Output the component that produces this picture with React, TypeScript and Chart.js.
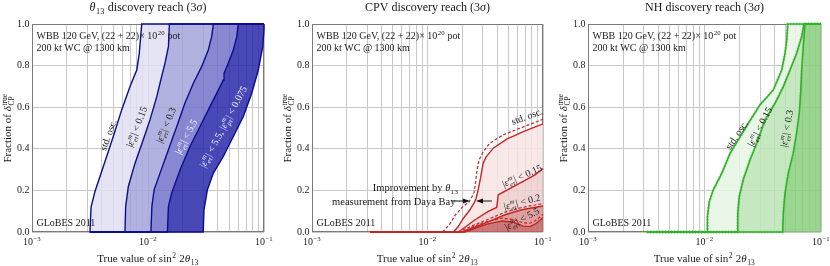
import React, { useEffect, useRef } from "react";
import { Chart, registerables } from "chart.js";

Chart.register(...registerables);

const FONT = '"Liberation Serif", "Times New Roman", Times, serif';
Chart.defaults.font.family = FONT;

// ---------- axes ----------
const X_MIN = 1e-3;
const X_MAX = 1e-1;
const X_START = 3.2e-3;
const X_GRID = [0.001, 0.002, 0.003, 0.004, 0.005, 0.006, 0.007, 0.008, 0.009, 0.01, 0.02, 0.03, 0.04, 0.05, 0.06, 0.07, 0.08, 0.09, 0.1];
const X_DECADES = [0.001, 0.01, 0.1];
const X_DECADE_EXP = ["−3", "−2", "−1"];
const Y_TICKS = [0, 0.2, 0.4, 0.6, 0.8, 1];

// ---------- θ13 discovery reach: [sin^2 2θ13, fraction] ----------
const T13_STD = [[3.16e-3, 0], [3.23e-3, 0.12], [3.49e-3, 0.195], [4.12e-3, 0.315], [5.02e-3, 0.459], [5.93e-3, 0.587], [7.0e-3, 0.699], [8.0e-3, 0.779], [8.41e-3, 0.859], [8.83e-3, 1.0]];
const T13_015 = [[6.33e-3, 0], [6.42e-3, 0.123], [6.77e-3, 0.219], [7.73e-3, 0.331], [9.1e-3, 0.443], [1.04e-2, 0.539], [1.19e-2, 0.651], [1.29e-2, 0.731], [1.40e-2, 0.811], [1.50e-2, 0.891], [1.53e-2, 1.0]];
const T13_03 = [[1.06e-2, 0], [1.08e-2, 0.123], [1.13e-2, 0.203], [1.27e-2, 0.283], [1.50e-2, 0.395], [1.77e-2, 0.507], [2.08e-2, 0.619], [2.46e-2, 0.715], [2.90e-2, 0.795], [3.31e-2, 0.875], [3.54e-2, 0.939], [3.66e-2, 1.0]];
const T13_55 = [[1.47e-2, 0], [1.50e-2, 0.123], [1.60e-2, 0.187], [1.89e-2, 0.299], [2.30e-2, 0.411], [2.81e-2, 0.507], [3.42e-2, 0.603], [4.18e-2, 0.699], [4.46e-2, 0.731], [4.52e-2, 0.763], [4.92e-2, 0.811], [5.44e-2, 0.875], [5.82e-2, 0.939], [6.0e-2, 1.0]];
const T13_55_0075 = [[2.99e-2, 0], [3.04e-2, 0.107], [3.25e-2, 0.203], [3.66e-2, 0.283], [4.46e-2, 0.363], [5.44e-2, 0.459], [6.63e-2, 0.555], [7.84e-2, 0.667], [8.93e-2, 0.779], [9.75e-2, 0.891], [0.1, 0.971], [0.1, 1.0]];

// ---------- CPV discovery reach ----------
const CPV_STD = [[1.673e-2, 0], [1.84e-2, 0.025], [2.04e-2, 0.065], [2.33e-2, 0.107], [2.53e-2, 0.14], [2.63e-2, 0.16], [2.74e-2, 0.2], [2.88e-2, 0.26], [3.03e-2, 0.33], [3.21e-2, 0.36], [3.71e-2, 0.403], [4.85e-2, 0.446], [6.75e-2, 0.483], [0.1, 0.52]];
const CPV_STD_DASH = [[1.35e-2, 0], [1.57e-2, 0.04], [1.73e-2, 0.08], [2.04e-2, 0.125], [2.26e-2, 0.14], [2.43e-2, 0.17], [2.53e-2, 0.19], [2.61e-2, 0.24], [2.69e-2, 0.3], [2.79e-2, 0.345], [3.03e-2, 0.385], [3.46e-2, 0.427], [4.52e-2, 0.467], [6.31e-2, 0.499], [0.1, 0.542]];
const CPV_015 = [[1.85e-2, 0], [2.20e-2, 0.03], [2.58e-2, 0.059], [3.36e-2, 0.099], [3.97e-2, 0.118], [4.04e-2, 0.15], [4.10e-2, 0.179], [5.01e-2, 0.205], [6.55e-2, 0.24], [8.53e-2, 0.275], [0.1, 0.305]];
const CPV_02 = [[2.0e-2, 0], [2.43e-2, 0.018], [3.15e-2, 0.043], [4.69e-2, 0.083], [6.55e-2, 0.107], [0.1, 0.125]];
const CPV_02_DASH = [[1.85e-2, 0], [2.4e-2, 0.028], [3.15e-2, 0.055], [4.69e-2, 0.095], [6.55e-2, 0.118], [0.1, 0.137]];
const CPV_55 = [[2.11e-2, 0], [2.58e-2, 0.018], [3.27e-2, 0.038], [4.42e-2, 0.053], [5.53e-2, 0.047], [6.75e-2, 0.028], [7.71e-2, 0.026], [8.69e-2, 0.04], [0.1, 0.07]];
const CPV_55_DASH = [[2.0e-2, 0], [2.58e-2, 0.03], [3.27e-2, 0.05], [4.42e-2, 0.066], [5.53e-2, 0.06], [6.75e-2, 0.044], [7.71e-2, 0.042], [8.69e-2, 0.056], [0.1, 0.085]];

// ---------- NH discovery reach ----------
const NH_STD = [[1.06e-2, 0], [1.06e-2, 0.075], [1.10e-2, 0.147], [1.19e-2, 0.203], [1.41e-2, 0.283], [1.66e-2, 0.379], [1.95e-2, 0.443], [2.38e-2, 0.523], [2.99e-2, 0.611], [3.90e-2, 0.683], [4.60e-2, 0.779], [4.91e-2, 0.859], [5.08e-2, 0.923], [5.18e-2, 1.0]];
const NH_015 = [[1.91e-2, 0], [1.93e-2, 0.091], [1.99e-2, 0.171], [2.15e-2, 0.251], [2.46e-2, 0.347], [2.81e-2, 0.427], [3.31e-2, 0.539], [4.03e-2, 0.619], [4.75e-2, 0.699], [5.42e-2, 0.779], [6.18e-2, 0.859], [6.83e-2, 0.939], [7.14e-2, 1.0]];
const NH_03 = [[4.69e-2, 0], [4.75e-2, 0.091], [4.91e-2, 0.187], [5.24e-2, 0.283], [5.78e-2, 0.379], [6.18e-2, 0.475], [6.51e-2, 0.571], [6.69e-2, 0.667], [6.83e-2, 0.779], [7.05e-2, 0.891], [7.29e-2, 1.0]];

// ---------- styling ----------
const FRAME = "#7a7a7a";
const GRID = "rgb(200,200,200)";
const TICK_COLOR = "#222";
const TEXT = "#1a1a1a";
const BLUE_LINE = "rgb(12,12,140)";
const RED_LINE = "rgb(196,36,36)";
const GREEN_LINE = "rgb(52,176,44)";

type Seg = { t?: string; i?: boolean; sup?: string; sub?: string; si?: boolean };
const T = (t: string): Seg => ({ t });
const I = (t: string): Seg => ({ t, i: true });
const S = (sup: string | undefined, sub: string | undefined, si = false): Seg => ({ sup, sub, si });
const eps = (sub: string, rest: string): Seg[] => [T("|"), I("ε"), S("m", sub, true), T(rest)];

type Pair = number[];
interface Band { poly: Pair[]; color: string }
interface Curve { data: Pair[]; color: string; width: number; dash?: number[]; ext?: boolean; top?: boolean; under?: { color: string; width: number; dash: number[] } }
interface Label { segs: Seg[]; x: number; y: number; rot: number; color: string; size?: number }
interface Arrow { x0: number; x1: number; y: number }
interface Panel {
  left: number; width: number; yAxisW: number; padRight: number;
  title: Seg[]; bands: Band[]; curves: Curve[]; labels: Label[]; arrows?: Arrow[];
}

const band = (a: Pair[], b: Pair[]): Pair[] => [...a, ...[...b].reverse()];

const PANELS: Panel[] = [
  {
    left: 0, width: 276, yAxisW: 32, padRight: 12,
    title: [I("θ"), S(undefined, "13"), T(" discovery reach (3"), I("σ"), T(")")],
    bands: [
      { poly: band(T13_STD, T13_015), color: "rgba(223,223,242,0.85)" },
      { poly: band(T13_015, T13_03), color: "rgba(164,164,218,0.85)" },
      { poly: band(T13_03, T13_55), color: "rgba(115,115,202,0.85)" },
      { poly: band(T13_55, T13_55_0075), color: "rgba(40,40,169,0.85)" },
    ],
    curves: [T13_STD, T13_015, T13_03, T13_55, T13_55_0075].map((d) => ({ data: d, color: BLUE_LINE, width: 1.4, ext: true, top: true })),
    labels: [
      { segs: [T("std. osc.")], x: 4.55e-3, y: 0.466, rot: -70, color: TEXT },
      { segs: eps("eτ", "| < 0.15"), x: 8.0e-3, y: 0.506, rot: -69, color: TEXT },
      { segs: eps("eτ", "| < 0.3"), x: 1.43e-2, y: 0.514, rot: -67, color: TEXT },
      { segs: eps("eτ", "| < 5.5"), x: 2.13e-2, y: 0.458, rot: -63, color: "rgba(255,255,255,0.92)" },
      { segs: [...eps("eτ", "| < 5.5, "), ...eps("μτ", "| < 0.075")], x: 4.46e-2, y: 0.506, rot: -62, color: "rgba(255,255,255,0.92)" },
    ],
  },
  {
    left: 276, width: 276, yAxisW: 36, padRight: 9,
    title: [T("CPV discovery reach (3"), I("σ"), T(")")],
    bands: [
      { poly: band(CPV_STD, CPV_015), color: "rgba(248,228,228,0.85)" },
      { poly: band(CPV_015, CPV_02), color: "rgba(237,206,206,0.85)" },
      { poly: band(CPV_02, CPV_55), color: "rgba(220,143,143,0.85)" },
      { poly: band(CPV_55, [[X_MAX, 0]]), color: "rgba(196,96,96,0.85)" },
    ],
    curves: [
      { data: CPV_STD, color: RED_LINE, width: 1.4, ext: true },
      { data: CPV_015, color: RED_LINE, width: 1.4, ext: true },
      { data: CPV_02, color: RED_LINE, width: 1.4, ext: true },
      { data: CPV_55, color: RED_LINE, width: 1.4, ext: true },
      { data: CPV_STD_DASH, color: RED_LINE, width: 1.2, dash: [3, 2] },
      { data: CPV_02_DASH, color: RED_LINE, width: 1.2, dash: [3, 2] },
      { data: CPV_55_DASH, color: RED_LINE, width: 1.2, dash: [3, 2] },
    ],
    labels: [
      { segs: [T("std. osc.")], x: 7.27e-2, y: 0.556, rot: -20, color: TEXT },
      { segs: eps("eτ", "| < 0.15"), x: 6.6e-2, y: 0.27, rot: -24, color: TEXT },
      { segs: eps("eτ", "| < 0.2"), x: 6.6e-2, y: 0.144, rot: -15, color: TEXT },
      { segs: eps("eτ", "| < 5.5"), x: 6.6e-2, y: 0.063, rot: -28, color: TEXT },
      { segs: [T("Improvement by "), I("θ"), S(undefined, "13")], x: 7.9e-3, y: 0.2115, rot: 0, color: TEXT, size: 10.5 },
      { segs: [T("measurement from Daya Bay")], x: 5.1e-3, y: 0.144, rot: 0, color: TEXT, size: 10.5 },
    ],
    arrows: [
      { x0: 1.63e-2, x1: 2.33e-2, y: 0.149 },
      { x0: 3.61e-2, x1: 2.63e-2, y: 0.149 },
    ],
  },
  {
    left: 552, width: 278, yAxisW: 36, padRight: 9,
    title: [T("NH discovery reach (3"), I("σ"), T(")")],
    bands: [
      { poly: band(NH_STD, NH_015), color: "rgba(230,244,227,0.85)" },
      { poly: band(NH_015, NH_03), color: "rgba(188,228,181,0.85)" },
      { poly: band(NH_03, [[X_MAX, 0], [X_MAX, 1]]), color: "rgba(137,207,126,0.85)" },
    ],
    curves: [NH_STD, NH_015, NH_03].map((d) => ({
      data: d, color: GREEN_LINE, width: 1.6, ext: true, top: true,
      under: { color: "rgba(140,212,130,0.75)", width: 2.8, dash: [1.5, 1.5] },
    })),
    labels: [
      { segs: [T("std. osc.")], x: 1.89e-2, y: 0.466, rot: -56, color: TEXT },
      { segs: eps("eτ", "| < 0.15"), x: 2.99e-2, y: 0.506, rot: -63, color: TEXT },
      { segs: eps("eτ", "| < 0.3"), x: 5.08e-2, y: 0.498, rot: -80, color: TEXT },
    ],
  },
];

const INFO_1: Seg[] = [T("WBB 120 GeV, (22 + 22)× 10"), S("20", undefined), T(" pot")];
const INFO_2: Seg[] = [T("200 kt WC @ 1300 km")];
const INFO_3: Seg[] = [T("GLoBES 2011")];
const X_TITLE: Seg[] = [T("True value of sin"), S("2", undefined), T(" 2"), I("θ"), S(undefined, "13")];
const Y_TITLE: Seg[] = [T("Fraction of "), I("δ"), S("true", "CP")];

// ---------- rich text ----------
function fontStr(size: number, italic?: boolean) {
  return `${italic ? "italic " : ""}${size}px ${FONT}`;
}
function richWidth(ctx: CanvasRenderingContext2D, segs: Seg[], size: number) {
  let w = 0;
  for (const s of segs) {
    if (s.t !== undefined) {
      ctx.font = fontStr(size, s.i);
      w += ctx.measureText(s.t).width;
    } else {
      ctx.font = fontStr(size * 0.68, s.si);
      const a = s.sup ? ctx.measureText(s.sup).width : 0;
      const b = s.sub ? ctx.measureText(s.sub).width : 0;
      w += Math.max(a, b) + size * 0.1;
    }
  }
  return w;
}
function drawRich(ctx: CanvasRenderingContext2D, segs: Seg[], x: number, y: number, size: number, color: string, align = "center", rot = 0) {
  ctx.save();
  ctx.translate(x, y);
  if (rot) ctx.rotate((rot * Math.PI) / 180);
  ctx.fillStyle = color;
  ctx.textAlign = "left";
  ctx.textBaseline = "alphabetic";
  const w = richWidth(ctx, segs, size);
  let cx = align === "center" ? -w / 2 : align === "right" ? -w : 0;
  const base = size * 0.32;
  for (const s of segs) {
    if (s.t !== undefined) {
      ctx.font = fontStr(size, s.i);
      ctx.fillText(s.t, cx, base);
      cx += ctx.measureText(s.t).width;
    } else {
      ctx.font = fontStr(size * 0.68, s.si);
      const x0 = cx + size * 0.05;
      if (s.sup) ctx.fillText(s.sup, x0, base - size * 0.4);
      if (s.sub) ctx.fillText(s.sub, x0, base + size * 0.24);
      const a = s.sup ? ctx.measureText(s.sup).width : 0;
      const b = s.sub ? ctx.measureText(s.sub).width : 0;
      cx += Math.max(a, b) + size * 0.1;
    }
  }
  ctx.restore();
}

function makePlugin(p: Panel) {
  return {
    id: "panelDecor",
    beforeDatasetsDraw(chart: any) {
      const { ctx, chartArea: a } = chart;
      ctx.save();
      ctx.strokeStyle = FRAME;
      ctx.lineWidth = 1;
      const l = Math.round(a.left) + 0.5, r = Math.round(a.right) - 0.5;
      const t = Math.round(a.top) + 0.5, b = Math.round(a.bottom) - 0.5;
      ctx.strokeRect(l, t, r - l, b - t);
      ctx.restore();
    },
    afterDatasetsDraw(chart: any) {
      const { ctx, chartArea: a, scales } = chart;
      const xs = scales.x, ys = scales.y;
      for (const lb of p.labels) {
        drawRich(ctx, lb.segs, xs.getPixelForValue(lb.x), ys.getPixelForValue(lb.y), lb.size ?? 10, lb.color, "center", lb.rot);
      }
      for (const ar of p.arrows ?? []) {
        const x0 = xs.getPixelForValue(ar.x0), x1 = xs.getPixelForValue(ar.x1), yy = ys.getPixelForValue(ar.y);
        const dir = Math.sign(x1 - x0);
        ctx.save();
        ctx.strokeStyle = "#111";
        ctx.fillStyle = "#111";
        ctx.lineWidth = 1;
        ctx.beginPath();
        ctx.moveTo(x0, yy);
        ctx.lineTo(x1 - dir * 4, yy);
        ctx.stroke();
        ctx.beginPath();
        ctx.moveTo(x1, yy);
        ctx.lineTo(x1 - dir * 7, yy - 2.6);
        ctx.lineTo(x1 - dir * 7, yy + 2.6);
        ctx.closePath();
        ctx.fill();
        ctx.restore();
      }
      drawRich(ctx, INFO_1, a.left + 4.5, a.top + 11.5, 10, TEXT, "left");
      drawRich(ctx, INFO_2, a.left + 4.5, a.top + 23.5, 10, TEXT, "left");
      drawRich(ctx, INFO_3, a.left + 4.5, a.bottom - 9.5, 10, TEXT, "left");
    },
    afterDraw(chart: any) {
      const { ctx, chartArea: a, scales } = chart;
      const cx = (a.left + a.right) / 2;
      // decade tick labels of the log axis (10^n with a raised exponent)
      X_DECADES.forEach((d, k) => {
        const px = scales.x.getPixelForValue(d);
        drawRich(ctx, [T("10"), S(X_DECADE_EXP[k], undefined)], px, a.bottom + 10, 10, TICK_COLOR, "center");
      });
      drawRich(ctx, p.title, cx, a.top - 16.5, 12, TEXT, "center");
      drawRich(ctx, X_TITLE, cx, 258.5, 11, TEXT, "center");
      drawRich(ctx, Y_TITLE, a.left - 24.5, (a.top + a.bottom) / 2, 11, TEXT, "center", -90);
    },
  };
}

const pts = (arr: Pair[]) => arr.map(([x, y]) => ({ x, y }));

function buildConfig(p: Panel): any {
  const datasets: any[] = [];
  for (const b of p.bands) {
    datasets.push({
      data: pts(b.poly), showLine: true, fill: "shape", backgroundColor: b.color,
      borderColor: "rgba(0,0,0,0)", borderWidth: 0, pointRadius: 0, order: 3,
    });
  }
  for (const c of p.curves) {
    let d = c.data;
    if (c.ext) d = [[X_START, 0], ...d];
    if (c.top && d[d.length - 1][0] < X_MAX) d = [...d, [X_MAX, 1]];
    if (c.under) {
      datasets.push({
        data: pts(d), showLine: true, fill: false, borderColor: c.under.color, borderWidth: c.under.width,
        borderDash: c.under.dash, pointRadius: 0, order: 1, clip: 3,
      });
    }
    datasets.push({
      data: pts(d), showLine: true, fill: false, borderColor: c.color, borderWidth: c.width,
      borderDash: c.dash ?? [], pointRadius: 0, order: 0, clip: 3,
    });
  }
  const tickFont = { family: FONT, size: 10 };
  return {
    type: "scatter",
    data: { datasets },
    plugins: [makePlugin(p)],
    options: {
      responsive: false,
      animation: false,
      devicePixelRatio: 1,
      events: [],
      layout: { padding: { left: 0, right: p.padRight, top: 24, bottom: 0 } },
      plugins: { legend: { display: false }, tooltip: { enabled: false }, title: { display: false } },
      scales: {
        x: {
          type: "logarithmic", min: X_MIN, max: X_MAX, position: "bottom",
          afterBuildTicks: (s: any) => { s.ticks = X_GRID.map((v) => ({ value: v })); },
          afterFit: (s: any) => { s.height = 34; },
          ticks: { display: false, autoSkip: false, maxRotation: 0, minRotation: 0, font: tickFont },
          grid: { color: GRID, lineWidth: 1, drawTicks: false },
          border: { display: false },
        },
        y: {
          type: "linear", min: 0, max: 1,
          afterBuildTicks: (s: any) => { s.ticks = Y_TICKS.map((v) => ({ value: v })); },
          afterFit: (s: any) => { s.width = p.yAxisW; },
          ticks: { padding: 2.5, color: TICK_COLOR, font: tickFont, callback: (v: any) => Number(v).toFixed(1) },
          grid: { color: GRID, lineWidth: 1, drawTicks: false },
          border: { display: false },
        },
      },
    },
  };
}

function PanelChart({ p }: { p: Panel }) {
  const ref = useRef<HTMLCanvasElement>(null);
  useEffect(() => {
    const chart = new Chart(ref.current as HTMLCanvasElement, buildConfig(p));
    return () => chart.destroy();
  }, [p]);
  return (
    <canvas
      ref={ref}
      width={p.width}
      height={266}
      style={{ position: "absolute", left: p.left, top: 0, width: p.width, height: 266 }}
    />
  );
}

export default function App() {
  return (
    <div style={{ position: "absolute", left: 0, top: 0, width: 830, height: 266, background: "#fff", overflow: "hidden" }}>
      {PANELS.map((p, i) => (
        <PanelChart key={i} p={p} />
      ))}
    </div>
  );
}
